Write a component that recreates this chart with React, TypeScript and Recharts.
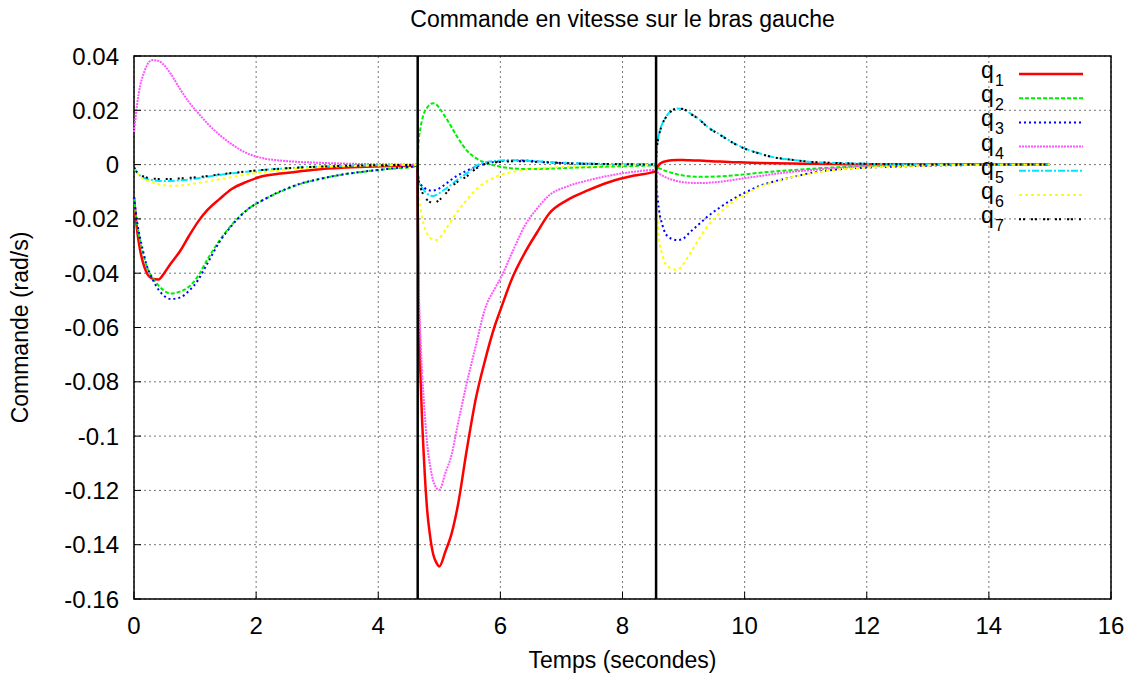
import {
  LineChart,
  Line,
  XAxis,
  YAxis,
  CartesianGrid,
  ReferenceLine,
  ReferenceArea,
  Legend,
  Label,
} from 'recharts';

// instants d'échantillonnage (s), trois phases séparées par les commutations
const temps = [
  0, 0.05, 0.1, 0.15, 0.2, 0.3, 0.4, 0.5, 0.6, 0.75, 0.9, 1.05, 1.2, 1.4, 1.6, 1.85, 2.1, 2.4, 2.7, 3.0, 3.4, 3.8, 4.2, 4.64,
  4.66, 4.7, 4.75, 4.8, 4.85, 4.9, 4.95, 5.0, 5.1, 5.2, 5.3, 5.45, 5.6, 5.75, 5.9, 6.0, 6.2, 6.4, 6.6, 6.8, 7.1, 7.4, 7.8, 8.2, 8.54,
  8.56, 8.6, 8.65, 8.7, 8.8, 8.9, 9.0, 9.1, 9.25, 9.4, 9.6, 9.8, 10.0, 10.25, 10.5, 10.8, 11.1, 11.5, 12.0, 12.5, 13.0, 14.0, 15.0,
];

const q1 = [
  -0.012, -0.024, -0.0315, -0.0363, -0.0395, -0.042, -0.0423, -0.0398, -0.0365, -0.032, -0.0263, -0.021, -0.0168, -0.0127, -0.009, -0.0063, -0.0043, -0.0033, -0.0025, -0.0018, -0.0012, -0.0008, -0.0005, -0.0003,
  -0.048, -0.083, -0.109, -0.127, -0.137, -0.1435, -0.1465, -0.148, -0.1425, -0.136, -0.126, -0.105, -0.086, -0.072, -0.06, -0.0536, -0.0415, -0.0325, -0.025, -0.018, -0.013, -0.0098, -0.0063, -0.004, -0.0025,
  -0.0015, 0, 0.0008, 0.0012, 0.0016, 0.0017, 0.0017, 0.0016, 0.0015, 0.0013, 0.0011, 0.0009, 0.0008, 0.0006, 0.0005, 0.0004, 0.0003, 0.0002, 0.0001, 0.0001, 0, 0, 0,
];

const q2 = [
  -0.012, -0.022, -0.028, -0.0327, -0.037, -0.0415, -0.0445, -0.0465, -0.0475, -0.0468, -0.045, -0.041, -0.035, -0.028, -0.0222, -0.0167, -0.0132, -0.01, -0.0073, -0.0055, -0.0037, -0.0025, -0.0015, -0.0007,
  0.008, 0.0145, 0.019, 0.021, 0.0222, 0.0226, 0.0222, 0.0208, 0.0175, 0.0138, 0.01, 0.0052, 0.0024, 0.0007, -0.0003, -0.0008, -0.0014, -0.0016, -0.0016, -0.0015, -0.0012, -0.001, -0.0007, -0.0005, -0.0003,
  -0.0008, -0.0013, -0.0018, -0.0023, -0.003, -0.0036, -0.004, -0.0043, -0.0045, -0.0045, -0.0043, -0.004, -0.0036, -0.003, -0.0025, -0.002, -0.0015, -0.001, -0.0006, -0.0003, -0.0002, -0.0001, 0,
];

const q3 = [
  -0.012, -0.021, -0.027, -0.032, -0.0365, -0.042, -0.046, -0.0485, -0.0495, -0.049, -0.0465, -0.0425, -0.0365, -0.0285, -0.0225, -0.0167, -0.0132, -0.0098, -0.0072, -0.0055, -0.0037, -0.0025, -0.0015, -0.0007,
  -0.006, -0.0075, -0.0085, -0.0092, -0.0095, -0.0095, -0.0093, -0.0088, -0.0072, -0.0055, -0.004, -0.0022, -0.0008, 0.0003, 0.001, 0.0012, 0.0015, 0.0015, 0.0012, 0.0008, 0.0005, 0.0003, 0.0001, 0, 0,
  -0.008, -0.017, -0.022, -0.0252, -0.0273, -0.0278, -0.0272, -0.025, -0.022, -0.019, -0.0157, -0.0128, -0.0104, -0.0078, -0.0061, -0.0045, -0.003, -0.0018, -0.0011, -0.0007, -0.0004, -0.0001, 0,
];

const q4 = [
  0.012, 0.022, 0.029, 0.033, 0.036, 0.0385, 0.0382, 0.0365, 0.0335, 0.028, 0.023, 0.019, 0.0152, 0.011, 0.0075, 0.0042, 0.0024, 0.0015, 0.001, 0.0007, 0.0004, 0.0002, 0.0001, 0,
  -0.039, -0.068, -0.088, -0.1025, -0.111, -0.1165, -0.119, -0.1198, -0.1135, -0.107, -0.096, -0.0805, -0.0665, -0.053, -0.046, -0.042, -0.032, -0.0225, -0.0162, -0.0113, -0.008, -0.006, -0.004, -0.0026, -0.002,
  -0.0025, -0.0033, -0.004, -0.0046, -0.0055, -0.0061, -0.0065, -0.0067, -0.0068, -0.0067, -0.0063, -0.0057, -0.005, -0.0042, -0.0034, -0.0026, -0.002, -0.0013, -0.0007, -0.0004, -0.0002, -0.0001, 0,
];

const q5 = [
  -0.001, -0.003, -0.004, -0.0047, -0.0052, -0.0057, -0.006, -0.006, -0.006, -0.0058, -0.0055, -0.005, -0.0045, -0.0038, -0.0032, -0.0026, -0.002, -0.0015, -0.0011, -0.0008, -0.0005, -0.0003, -0.0002, -0.0001,
  -0.006, -0.008, -0.0095, -0.0107, -0.0113, -0.0116, -0.0112, -0.0105, -0.009, -0.0073, -0.0055, -0.0032, -0.0005, 0.0008, 0.0013, 0.0015, 0.0016, 0.0015, 0.0012, 0.0009, 0.0006, 0.0004, 0.0002, 0.0001, 0,
  0.006, 0.0115, 0.015, 0.0172, 0.0198, 0.0207, 0.0205, 0.019, 0.0168, 0.0138, 0.011, 0.0082, 0.006, 0.0041, 0.0026, 0.0017, 0.001, 0.0006, 0.0003, 0.0001, 0, 0, 0,
];

const q6 = [
  -0.001, -0.003, -0.0043, -0.0052, -0.0058, -0.0066, -0.0072, -0.0076, -0.0078, -0.0077, -0.0073, -0.0068, -0.0062, -0.0054, -0.0046, -0.0036, -0.0028, -0.002, -0.0014, -0.001, -0.0006, -0.0004, -0.0002, -0.0001,
  -0.01, -0.017, -0.0225, -0.0255, -0.027, -0.0276, -0.0278, -0.0272, -0.024, -0.0205, -0.0172, -0.013, -0.0092, -0.0066, -0.0048, -0.0038, -0.0027, -0.0019, -0.0014, -0.0011, -0.0008, -0.0005, -0.0003, -0.0002, -0.0001,
  -0.013, -0.0278, -0.033, -0.0363, -0.0383, -0.0388, -0.0365, -0.033, -0.0275, -0.0225, -0.0177, -0.0138, -0.011, -0.0082, -0.0062, -0.0045, -0.0032, -0.0019, -0.0011, -0.0006, -0.0003, -0.0001, 0,
];

const q7 = [
  -0.001, -0.0028, -0.0037, -0.0043, -0.0047, -0.0051, -0.0053, -0.0053, -0.0053, -0.0051, -0.0049, -0.0046, -0.0042, -0.0036, -0.0031, -0.0025, -0.002, -0.0015, -0.0011, -0.0008, -0.0005, -0.0003, -0.0002, -0.0001,
  -0.006, -0.009, -0.0115, -0.013, -0.0138, -0.0142, -0.0138, -0.013, -0.0108, -0.0082, -0.0063, -0.0043, -0.0015, 0.0002, 0.0008, 0.001, 0.0012, 0.0012, 0.001, 0.0008, 0.0005, 0.0003, 0.0002, 0.0001, 0,
  0.0055, 0.011, 0.0148, 0.017, 0.0197, 0.0206, 0.0204, 0.0189, 0.0167, 0.0137, 0.0109, 0.0081, 0.0059, 0.004, 0.0026, 0.0017, 0.001, 0.0006, 0.0003, 0.0001, 0, 0, 0,
];

// instants de commutation (traits verticaux)
const commutations = [4.646, 8.55];

const xTicks = [0, 2, 4, 6, 8, 10, 12, 14, 16];
const yTicks = [-0.16, -0.14, -0.12, -0.1, -0.08, -0.06, -0.04, -0.02, 0, 0.02, 0.04];

const font = '"Liberation Sans", Arial, Helvetica, sans-serif';

const series = [
  { key: 'q1', sub: '1', color: '#ff0000', dash: undefined, width: 2.5 },
  { key: 'q2', sub: '2', color: '#00ee00', dash: '4 2', width: 2 },
  { key: 'q3', sub: '3', color: '#0000ff', dash: '2 3', width: 2 },
  { key: 'q4', sub: '4', color: '#ff55ff', dash: '2 1', width: 2 },
  { key: 'q5', sub: '5', color: '#00e5ff', dash: '7 2 2 2', width: 2 },
  { key: 'q6', sub: '6', color: '#ffff00', dash: '3 3', width: 2 },
  { key: 'q7', sub: '7', color: '#000000', dash: '2 2 2 6', width: 2 },
];

const data = temps.map((t, i) => ({
  t,
  q1: q1[i],
  q2: q2[i],
  q3: q3[i],
  q4: q4[i],
  q5: q5[i],
  q6: q6[i],
  q7: q7[i],
}));

const fmt = (v: number) => String(Number(v.toFixed(2)));

const renderLegend = () => (
  <svg width={140} height={200} style={{ display: 'block', overflow: 'visible' }}>
    {series.map((s, i) => {
      const y = 24 + i * 24.2;
      return (
        <g key={s.key} fontFamily={font} fill='#000'>
          <text x={21} y={y + 4} fontSize={23}>
            q
          </text>
          <text x={35} y={y + 12} fontSize={16}>
            {s.sub}
          </text>
          <line
            x1={59}
            x2={123}
            y1={y}
            y2={y}
            stroke={s.color}
            strokeWidth={s.width}
            strokeDasharray={s.dash}
          />
        </g>
      );
    })}
  </svg>
);

export default function App() {
  return (
    <div style={{ position: 'relative', width: 1118, height: 669 }}>
      <div
        style={{
          position: 'absolute',
          top: 0,
          left: 126,
          width: 977,
          textAlign: 'center',
          fontFamily: font,
          fontSize: 23,
          lineHeight: '23px',
          color: '#000',
        }}>
        Commande en vitesse sur le bras gauche
      </div>
      <LineChart
        width={1118}
        height={669}
        data={data}
        margin={{ top: 48, right: 15, left: 0, bottom: 0 }}>
        <CartesianGrid stroke='#777' strokeDasharray='2 3' />
        <XAxis
          dataKey='t'
          type='number'
          domain={[0, 16]}
          ticks={xTicks}
          height={78}
          axisLine={false}
          tickSize={-7}
          tickMargin={25}
          tickLine={{ stroke: '#000' }}
          tick={{ fontSize: 24, fill: '#000', fontFamily: font }}>
          <Label
            value='Temps (secondes)'
            position='insideBottom'
            offset={9}
            fontSize={23}
            fill='#000'
            fontFamily={font}
          />
        </XAxis>
        <YAxis
          type='number'
          domain={[-0.16, 0.04]}
          ticks={yTicks}
          width={126}
          axisLine={false}
          tickSize={-7}
          tickMargin={22}
          tickLine={{ stroke: '#000' }}
          tickFormatter={fmt}
          tick={{ fontSize: 24, fill: '#000', fontFamily: font }}>
          <Label
            value='Commande (rad/s)'
            angle={-90}
            position='insideLeft'
            offset={12}
            fontSize={23}
            fill='#000'
            fontFamily={font}
            style={{ textAnchor: 'middle' }}
          />
        </YAxis>
        <ReferenceArea
          x1={0}
          x2={16}
          y1={-0.16}
          y2={0.04}
          fill='none'
          fillOpacity={0}
          stroke='#000'
          strokeWidth={1.5}
        />
        {series.map((s) => (
          <Line
            key={s.key}
            type='monotone'
            dataKey={s.key}
            stroke={s.color}
            strokeWidth={s.width}
            strokeDasharray={s.dash}
            dot={false}
            activeDot={false}
            isAnimationActive={false}
          />
        ))}
        {commutations.map((c) => (
          <ReferenceLine key={c} x={c} stroke='#000' strokeWidth={2.5} />
        ))}
        <Legend
          layout='vertical'
          align='center'
          verticalAlign='middle'
          content={renderLegend}
          wrapperStyle={{ top: 42, left: 952, width: 140, height: 200 }}
        />
      </LineChart>
    </div>
  );
}
